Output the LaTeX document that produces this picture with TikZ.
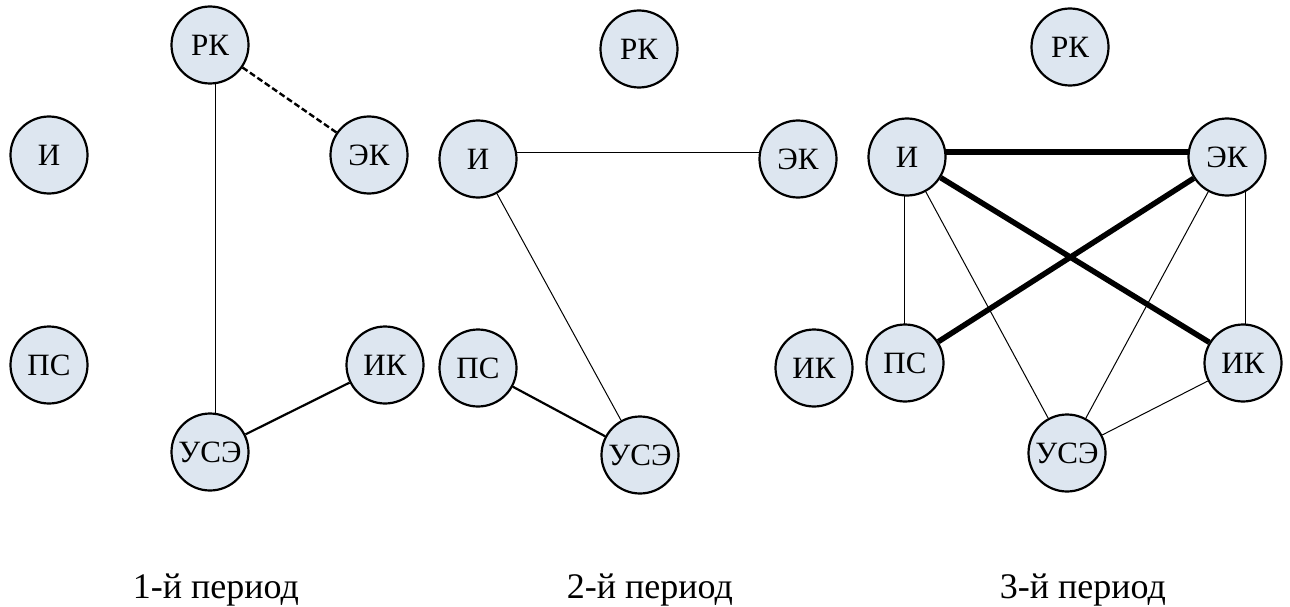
\documentclass[tikz,border=0pt]{standalone}
\usepackage{fontspec}
\setmainfont{Liberation Serif}
\usetikzlibrary{backgrounds}
\definecolor{nodefill}{RGB}{221,230,240}
\tikzset{
  vert/.style={circle, draw=black, line width=2.2pt, fill=nodefill,
    minimum size=77pt, inner sep=0pt, font=\rmfamily\fontsize{31}{33}\selectfont},
  thinlink/.style={line width=1pt},
  midlink/.style={line width=2.2pt},
  boldlink/.style={line width=5.5pt},
  dashlink/.style={line width=2.4pt, dash pattern=on 6pt off 3pt},
  caption/.style={anchor=base, font=\rmfamily\fontsize{36}{40}\selectfont}
}
\begin{document}
\begin{tikzpicture}[x=1pt, y=-1pt]
\useasboundingbox (0,0) rectangle (1290,607);

% first period
\node[vert] (a-rk)  at (210,45)  {РК};
\node[vert] (a-i)   at (49,155)  {И};
\node[vert] (a-ek)  at (369,155) {ЭК};
\node[vert] (a-ps)  at (49,365)  {ПС};
\node[vert] (a-ik)  at (385,365) {ИК};
\node[vert] (a-use) at (210,452) {УСЭ};

% second period
\node[vert] (b-rk)  at (639,49)  {РК};
\node[vert] (b-i)   at (478,159) {И};
\node[vert] (b-ek)  at (798,159) {ЭК};
\node[vert] (b-ps)  at (478,368) {ПС};
\node[vert] (b-ik)  at (814,368) {ИК};
\node[vert] (b-use) at (640,455) {УСЭ};

% third period
\node[vert] (c-rk)  at (1070,47)  {РК};
\node[vert] (c-i)   at (907,157)  {И};
\node[vert] (c-ek)  at (1227,157) {ЭК};
\node[vert] (c-ps)  at (905,363)  {ПС};
\node[vert] (c-ik)  at (1243,363) {ИК};
\node[vert] (c-use) at (1067,453) {УСЭ};

\begin{scope}[on background layer]
  % first period links
  \draw[thinlink] ([xshift=5pt]a-rk.center) -- ([xshift=5pt]a-use.center);
  \draw[dashlink] (a-rk) -- (a-ek);
  \draw[midlink] (a-use) -- (a-ik);

  % second period links
  \draw[thinlink] ([yshift=7pt]b-i.center) -- ([yshift=7pt]b-ek.center);
  \draw[thinlink] (b-i) -- (b-use);
  \draw[midlink] (b-ps) -- (b-use);

  % third period links
  \draw[boldlink] ([yshift=5pt]c-i.center) -- ([yshift=5pt]c-ek.center);
  \draw[boldlink] (c-i) -- (c-ik);
  \draw[boldlink] (c-ps) -- (c-ek);
  \draw[thinlink] ([xshift=-3pt]c-i.center) -- ([xshift=-3pt]c-i.center |- c-ps.center);
  \draw[thinlink] ([xshift=2pt]c-ik.center) -- ([xshift=2pt]c-ik.center |- c-ek.center);
  \draw[thinlink] (c-i) -- (c-use);
  \draw[thinlink] (c-ek) -- (c-use);
  \draw[thinlink] (c-ik) -- (c-use);
\end{scope}

% period captions
\node[caption] (cap-a) at (216,598)  {1-й период};
\node[caption] (cap-b) at (650,598)  {2-й период};
\node[caption] (cap-c) at (1083,598) {3-й период};
\end{tikzpicture}
\end{document}
